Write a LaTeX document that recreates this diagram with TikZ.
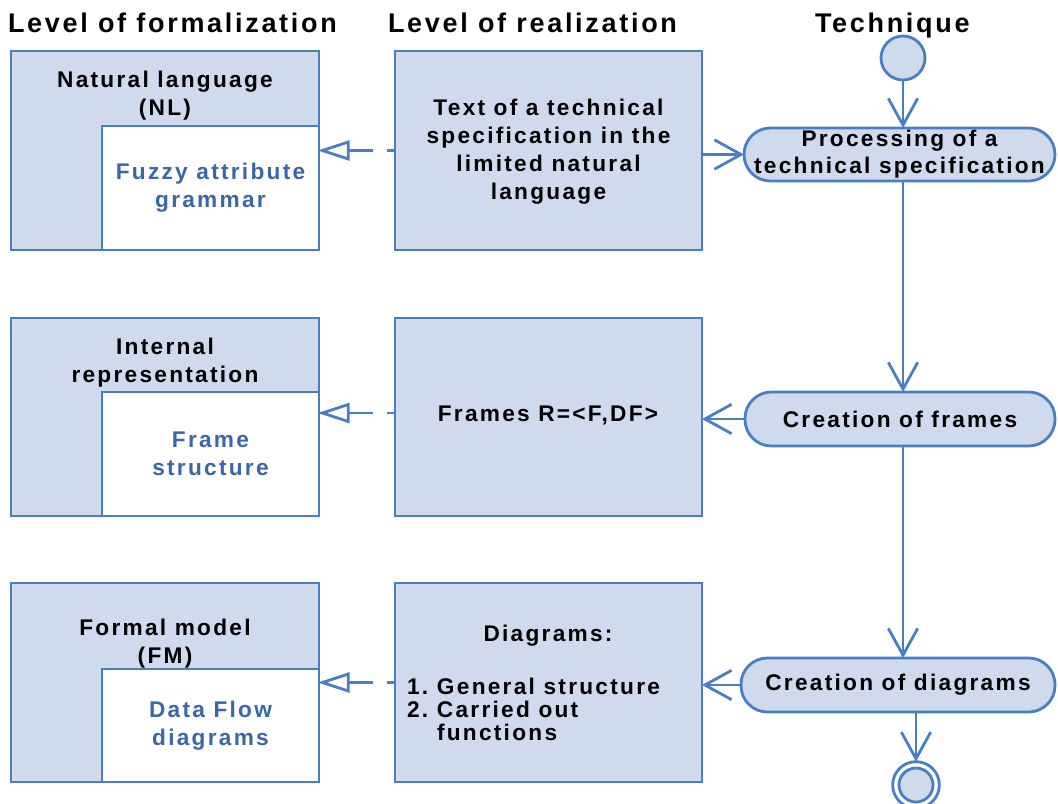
\documentclass[tikz,border=0pt]{standalone}
\usepackage{fontspec}
\setmainfont{Liberation Sans}[LetterSpace=10]
\usetikzlibrary{arrows.meta}
\definecolor{fillc}{RGB}{207,218,236}
\definecolor{linec}{RGB}{74,126,196}
\definecolor{innc}{RGB}{58,104,166}
\begin{document}
\begin{tikzpicture}[x=0.75pt,y=-0.75pt, outer sep=0pt,
  box/.style={draw=linec, line width=2.1pt, fill=fillc, anchor=north west, inner sep=0pt, minimum width=231pt},
  midbox/.style={box, minimum width=230.25pt},
  inbox/.style={draw=linec, line width=2.1pt, fill=white, anchor=north west, inner sep=0pt, minimum width=162.75pt},
  lbl/.style={font=\bfseries\fontsize{17}{21}\selectfont, align=center, inner sep=0pt},
  inlbl/.style={lbl, text=innc},
  act/.style={draw=linec, line width=2.1pt, fill=fillc, rectangle, rounded corners=19.8pt, inner sep=0pt,
     font=\bfseries\fontsize{17}{20.25}\selectfont, align=center},
  hdr/.style={font=\bfseries\fontsize{20.25}{22}\selectfont, anchor=base west, inner sep=0pt},
  flow/.style={draw=linec, line width=2.1pt, -{Straight Barb[length=20pt,width=22pt]}},
  dep/.style={draw=linec, line width=2.1pt, dash pattern=on 6pt off 10.5pt on 60pt,
     -{Triangle[open,length=24pt,width=15pt]}, shorten >=-1pt},
  state/.style={circle, draw=linec, line width=2.1pt, fill=fillc, inner sep=0pt}
]
\useasboundingbox (0,0) rectangle (1058,804);

% headers
\node[hdr] (h1) at (8,32) {Level of formalization};
\node[hdr] (h2) at (388,32) {Level of realization};
\node[hdr] (h3) at (815,32) {Technique};

% left column
\node[box, minimum height=149.25pt] (L1) at (11,51) {};
\node[inbox, minimum height=93pt] (L1i) at (102,126) {};
\node[box, minimum height=148.5pt] (L2) at (11,318) {};
\node[inbox, minimum height=93pt] (L2i) at (102,392) {};
\node[box, minimum height=149.25pt] (L3) at (11,583) {};
\node[inbox, minimum height=84.75pt] (L3i) at (102,669) {};

\node[lbl] (t1) at (165,96) {Natural language\\(NL)};
\node[inlbl] (t1i) at (L1i.center) {Fuzzy attribute\\grammar};
\node[lbl] (t2) at (165,362.5) {Internal\\representation};
\node[inlbl] (t2i) at (L2i.center) {Frame\\structure};
\node[lbl] (t3) at (165,643.5) {Formal model\\(FM)};
\node[inlbl] (t3i) at (L3i.center) {Data Flow\\diagrams};

% middle column
\node[midbox, minimum height=149.25pt] (M1) at (395,51) {};
\node[midbox, minimum height=148.5pt] (M2) at (395,318) {};
\node[midbox, minimum height=149.25pt] (M3) at (395,583) {};

\node[lbl] (m1) at ([yshift=-1pt]M1.center) {Text of a technical\\specification in the\\limited natural\\language};
\node[lbl] (m2) at (548,415) {Frames R=<F,DF>};
\node[lbl] (m3a) at (548,636) {Diagrams:};
\node[lbl, align=left, anchor=west, font=\bfseries\fontsize{17}{17.25}\selectfont] (m3b) at (407,709)
  {\makebox[22.5pt][l]{1.}General structure\\\makebox[22.5pt][l]{2.}Carried out\\\hspace*{22.5pt}functions};

% technique column
\node[state, minimum size=33pt] (st) at (903,58) {};
\node[act, minimum width=233.25pt, minimum height=39.75pt] (A1) at (899.5,154.5) {Processing of a\\technical specification};
\node[act, minimum width=232.5pt, minimum height=40.5pt] (A2) at (900,419) {Creation of frames};
\node[act, minimum width=235.5pt, minimum height=40.5pt] (A3) at (898,685) {Creation of diagrams};
\node[circle, draw=linec, line width=2.1pt, minimum size=35pt, inner sep=0pt] (en) at (916,785) {};
\node[state, minimum size=25.5pt] (eni) at (en.center) {};

% flows
\draw[flow] (st.south) -- (st.south |- A1.north);
\draw[flow] (A1.south -| st.south) -- (A2.north -| st.south);
\draw[flow] (A2.south -| st.south) -- (A3.north -| st.south);
\draw[flow] (en.north |- A3.south) -- (en.north);
\draw[flow] (M1.east |- A1.west) -- (A1.west);
\draw[flow] (A2.west) -- (A2.west -| M2.east);
\draw[flow] (A3.west) -- (A3.west -| M3.east);

% dependencies
\draw[dep] (M1.west) -- (M1.west -| L1.east);
\draw[dep] ([yshift=3pt]M2.west) -- ([yshift=3pt]M2.west -| L2.east);
\draw[dep] (M3.west) -- (M3.west -| L3.east);
\end{tikzpicture}
\end{document}
